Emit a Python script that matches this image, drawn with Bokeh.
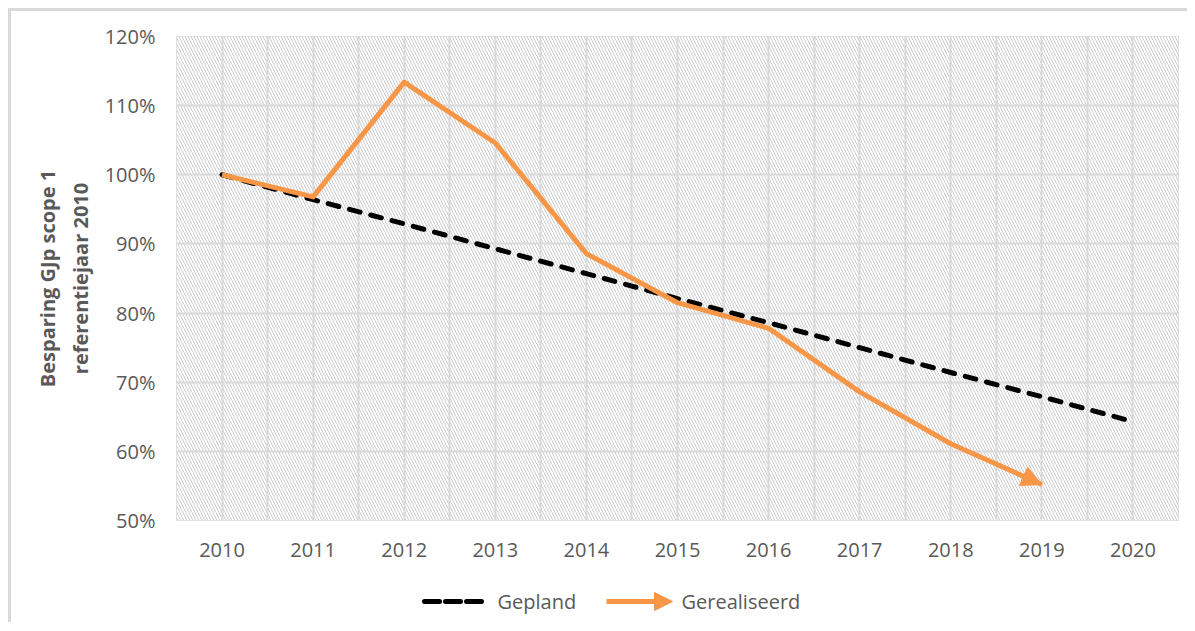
from bokeh.plotting import figure
from bokeh.layouts import column
from bokeh.models import (FixedTicker, NumeralTickFormatter, BoxAnnotation,
                          Arrow, NormalHead, ColumnDataSource, Range1d)
from bokeh.core.properties import value
from bokeh.embed import file_html
from bokeh.resources import INLINE
import numpy as np

years = [2010, 2011, 2012, 2013, 2014, 2015, 2016, 2017, 2018, 2019, 2020]
gepland = [1.000, 0.964, 0.929, 0.893, 0.857, 0.821, 0.786, 0.750, 0.714, 0.679, 0.643]
real_years = [2010, 2011, 2012, 2013, 2014, 2015, 2016, 2017, 2018, 2019]
gerealiseerd = [1.000, 0.968, 1.134, 1.046, 0.886, 0.815, 0.778, 0.686, 0.611, 0.552]
y_ticks = [0.5, 0.6, 0.7, 0.8, 0.9, 1.0, 1.1, 1.2]
y_label = "Besparing GJp scope 1\nreferentiejaar 2010"
names = ["Gepland", "Gerealiseerd"]

GRAY = "#595959"
GRID = "#d9d9d9"
ORANGE = "#F79646"
FONT = "Open Sans"

FW, FH = 1002, 484
ML, MR = 165, 9

p = figure(frame_width=FW, frame_height=FH,
           x_range=Range1d(2009.5, 2020.5), y_range=Range1d(0.5, 1.2),
           output_backend="svg", toolbar_location=None,
           min_border_left=ML, min_border_top=25, min_border_right=MR, min_border_bottom=50)
p.background_fill_color = "white"
p.border_fill_color = "white"
p.outline_line_color = GRID

hatch = BoxAnnotation(fill_color="white", fill_alpha=1.0, line_alpha=0,
                      hatch_pattern="\\", hatch_color="#cccccc", hatch_scale=6,
                      hatch_weight=1, level="image")
p.add_layout(hatch)

src_g = ColumnDataSource(dict(x=years, y=gepland))
src_r = ColumnDataSource(dict(x=real_years, y=gerealiseerd))

DASH = "11 11"
p.line("x", "y", source=src_g, line_color="black", line_width=5,
       line_dash=DASH, line_cap="round")
p.line("x", "y", source=src_r, line_color=ORANGE, line_width=5, line_join="round")
p.add_layout(Arrow(end=NormalHead(size=20, fill_color=ORANGE, line_color=ORANGE),
                   x_start=real_years[-2], y_start=gerealiseerd[-2],
                   x_end=real_years[-1], y_end=gerealiseerd[-1], line_alpha=0))

# axes
p.xaxis.ticker = FixedTicker(ticks=years)
p.yaxis.ticker = FixedTicker(ticks=y_ticks)
p.yaxis.formatter = NumeralTickFormatter(format="0%")
for ax in (p.xaxis[0], p.yaxis[0]):
    ax.axis_line_color = None
    ax.major_tick_line_color = None
    ax.minor_tick_line_color = None
    ax.major_label_text_font = FONT
    ax.major_label_text_font_size = "20px"
    ax.major_label_text_color = GRAY
p.xaxis.major_label_standoff = 16
p.yaxis.major_label_standoff = 15
p.yaxis.axis_label = y_label
p.yaxis.axis_label_text_font = FONT
p.yaxis.axis_label_text_font_style = "bold"
p.yaxis.axis_label_text_font_size = "20px"
p.yaxis.axis_label_text_color = GRAY
p.yaxis.axis_label_standoff = 8

p.xgrid.ticker = FixedTicker(ticks=list(np.arange(2009.5, 2020.6, 0.5)))
p.xgrid.grid_line_color = GRID
p.xgrid.grid_line_width = 2
p.ygrid.grid_line_color = GRID
p.ygrid.grid_line_width = 2

# legend strip (pixel coordinates, aligned with the main frame)
LH = 52
leg = figure(frame_width=FW, frame_height=LH,
             x_range=Range1d(0, FW), y_range=Range1d(0, LH),
             output_backend="svg", toolbar_location=None,
             min_border_left=ML, min_border_right=MR, min_border_top=0, min_border_bottom=0,
             outline_line_color=None)
leg.axis.visible = False
leg.grid.visible = False
leg.background_fill_color = "white"
leg.border_fill_color = "white"

LY = 21
G_X0, GLW, STAND, LAB1_W, SPC = 246, 66, 9, 78, 31
O_X0 = G_X0 + GLW + STAND + LAB1_W + SPC
leg.line([G_X0 + 2, G_X0 + GLW - 2], [LY, LY], line_color="black", line_width=5,
         line_dash="15 6", line_cap="round")
leg.line([O_X0, O_X0 + GLW - 12], [LY, LY], line_color=ORANGE, line_width=5)
leg.add_layout(Arrow(end=NormalHead(size=18, fill_color=ORANGE, line_color=ORANGE),
                     x_start=O_X0 + GLW - 20, y_start=LY, x_end=O_X0 + GLW, y_end=LY,
                     line_alpha=0))
leg.text(x=[G_X0 + GLW + STAND, O_X0 + GLW + STAND], y=[LY, LY], text=names,
         text_font=value(FONT), text_font_size="20px", text_color=GRAY,
         text_baseline="middle", text_align="left")

layout = column(p, leg, spacing=0)
layout.styles = {"border-top": "3px solid #d9d9d9", "border-left": "3px solid #d9d9d9",
                 "margin-left": "8px", "margin-top": "8px"}

open("out.html", "w").write(file_html(layout, INLINE))
